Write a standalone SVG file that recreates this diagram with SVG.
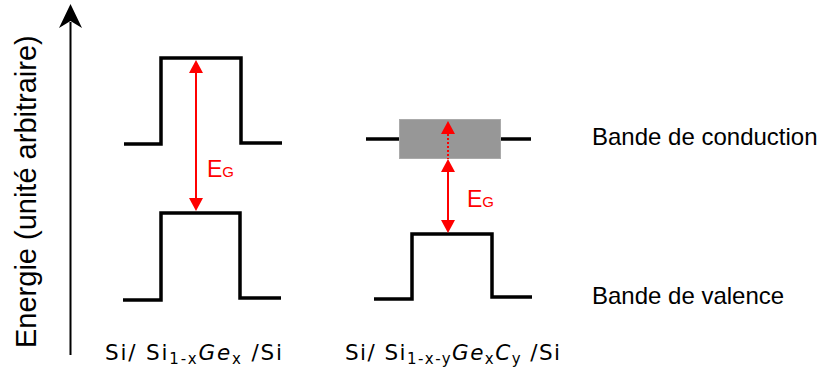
<svg xmlns="http://www.w3.org/2000/svg" width="825" height="374" viewBox="0 0 825 374">
<style>
.band{fill:none;stroke:#000;stroke-width:3.5;stroke-linejoin:miter;stroke-linecap:butt}
.red{stroke:#ff0000;stroke-width:2;fill:none}
.redhead{fill:#ff0000}
.lbl{font-family:"Liberation Sans",Arial,sans-serif;font-size:24px;fill:#000}
.eg{font-family:"Liberation Sans",Arial,sans-serif;font-size:23px;fill:#ff0000}
.eg .sub{font-size:15px}
.mat{font-family:"DejaVu Sans",sans-serif;font-size:21.5px;fill:#000}
.mat .s{font-size:15px}
.mat .i{font-style:italic}
</style>
<rect width="825" height="374" fill="#fff"/>
<g id="axis">
<line x1="70.5" y1="22" x2="70.5" y2="355" stroke="#000" stroke-width="2"/>
<path d="M70.5,4 L82,28 L70.5,21 L59,28 Z" fill="#000"/>
<text class="lbl" transform="translate(36,348) rotate(-90)" style="font-size:29px">Energie (unité arbitraire)</text>
</g>
<g id="well-sige">
<path class="band" d="M124,144 H161 V58 H241 V143 H282"/>
<path class="band" d="M123,300 H161 V213 H240 V298 H281"/>
</g>
<g id="well-sigec">
<line x1="366" y1="139" x2="400" y2="139" stroke="#000" stroke-width="3.5"/>
<line x1="500" y1="139" x2="531" y2="139" stroke="#000" stroke-width="3.5"/>
<rect x="399.5" y="119.5" width="101" height="39" fill="#979797" stroke="#aaaaaa" stroke-width="1"/>
<path class="band" d="M374,299 H412 V234 H492 V297 H532"/>
</g>
<g id="connectors">
<g id="eg-left">
<line class="red" x1="196" y1="72" x2="196" y2="199"/>
<path class="redhead" d="M196,60 L203,73 L189,73 Z"/>
<path class="redhead" d="M196,211 L203,198 L189,198 Z"/>
</g>
<g id="eg-right">
<line class="red" x1="448" y1="134" x2="448" y2="159" stroke-dasharray="2,2"/>
<path class="redhead" d="M448,121 L455,134 L441,134 Z"/>
<line class="red" x1="448" y1="171" x2="448" y2="221"/>
<path class="redhead" d="M448,159 L455,172 L441,172 Z"/>
<path class="redhead" d="M448,233 L455,220 L441,220 Z"/>
</g>
</g>
<g id="label-eg-left"><text class="eg" x="207" y="177">E<tspan class="sub">G</tspan></text></g>
<g id="label-eg-right"><text class="eg" x="467" y="207">E<tspan class="sub">G</tspan></text></g>
<g id="label-cb"><text class="lbl" x="592" y="145">Bande de conduction</text></g>
<g id="label-vb"><text class="lbl" x="592" y="304">Bande de valence</text></g>
<g id="label-sige"><text class="mat" x="105" y="360" textLength="177" lengthAdjust="spacing">Si/ Si<tspan class="s" dy="4">1-x</tspan><tspan class="i" dy="-4">Ge</tspan><tspan class="s" dy="4">x</tspan><tspan dy="-4"> /Si</tspan></text></g>
<g id="label-sigec"><text class="mat" x="345" y="360" textLength="215" lengthAdjust="spacing">Si/ Si<tspan class="s" dy="4">1-x-y</tspan><tspan class="i" dy="-4">Ge</tspan><tspan class="s" dy="4">x</tspan><tspan class="i" dy="-4">C</tspan><tspan class="s" dy="4">y</tspan><tspan dy="-4"> /Si</tspan></text></g>
</svg>
